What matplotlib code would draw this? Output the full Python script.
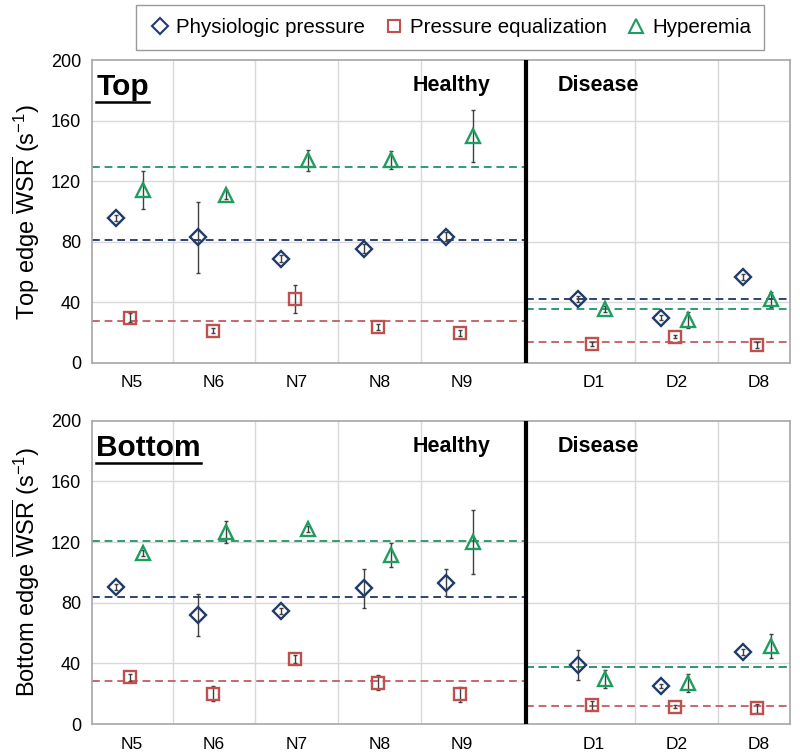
import matplotlib
matplotlib.use("Agg")
import matplotlib.pyplot as plt
from matplotlib.lines import Line2D
import numpy as np

plt.rcParams['font.family'] = ['Liberation Sans', 'DejaVu Sans']
plt.rcParams['mathtext.fontset'] = 'custom'
plt.rcParams['mathtext.rm'] = 'Liberation Sans'
plt.rcParams['mathtext.bf'] = 'Liberation Sans:bold'
plt.rcParams['mathtext.it'] = 'Liberation Sans:italic'

# ---------------- data ----------------
categories = ["N5", "N6", "N7", "N8", "N9", "D1", "D2", "D8"]
healthy_n = 5
series_names = ["Physiologic pressure", "Pressure equalization", "Hyperemia"]

top_phys = [96, 83, 69, 75.5, 83.4, 42, 30, 57]
top_phys_err = [2, 23.5, 2, 3, 3, 2, 1.5, 2]
top_peq = [30, 21.3, 42.2, 23.5, 20, 12.5, 17.4, 11.9]
top_peq_err = [3, 1.5, 9, 2, 2, 1.5, 1, 2]
top_hyp = [114, 111, 134, 134, 150, 35.4, 28.4, 42]
top_hyp_err = [12.5, 3, 7, 6, 17, 2, 5, 5]
top_mean_healthy = [81, 27.5, 129.2]
top_mean_disease = [42.5, 13.9, 35.9]

bot_phys = [90.5, 72, 74.7, 89.4, 93.2, 38.9, 25, 47.3]
bot_phys_err = [2, 14, 2, 13, 9, 10, 1.5, 2]
bot_peq = [30.8, 20, 43, 27.3, 19.6, 12.5, 11.4, 10.3]
bot_peq_err = [2.5, 5, 2.5, 5, 5, 3, 1, 3]
bot_hyp = [113, 126.6, 128.6, 111.4, 120.2, 29.7, 27.3, 51.4]
bot_hyp_err = [2, 7, 2, 8, 21, 6, 6, 8]
bot_mean_healthy = [84, 28.4, 120.9]
bot_mean_disease = [37.4, 11.9, 37.8]

yticks = [0, 40, 80, 120, 160, 200]

# ---------------- styling ----------------
cat_pos = np.array([0, 1, 2, 3, 4, 5.6, 6.6, 7.6])
divider = 4.78
xlim = (-0.48, 7.98)
offsets = [-0.19, -0.02, 0.14]
markers = ['D', 's', '^']
msizes = [7.8, 8.5, 10.5]
mcolors = ['#1F3B6E', '#C0504D', '#1E9E5E']
lcolors = ['#2E4470', '#C8676A', '#2F9E6E']
grid_c = '#D9D9D9'
spine_c = '#A6A6A6'

fig = plt.figure(figsize=(8.0, 7.53), dpi=100)
ax_top = fig.add_axes([0.115, 0.518, 0.873, 0.402])
ax_bot = fig.add_axes([0.115, 0.0385, 0.873, 0.4028])

titles = []


def draw(ax, vals, errs, mh, md, title, ylabel):
    ax.set_xlim(*xlim)
    ax.set_ylim(0, 200)
    ax.set_yticks(yticks)
    ax.set_xticks(cat_pos)
    ax.set_xticklabels(categories, fontsize=12.5)
    ax.tick_params(axis='y', labelsize=13, length=0, pad=8)
    ax.tick_params(axis='x', length=0, pad=9)
    for s in ax.spines.values():
        s.set_color(spine_c)
        s.set_linewidth(1.2)
    for y in yticks[1:-1]:
        ax.axhline(y, color=grid_c, lw=1, zorder=0)
    bounds = [0.5, 1.5, 2.5, 3.5, 6.1, 7.1]
    for b in bounds:
        ax.axvline(b, color=grid_c, lw=1, zorder=0)
    ax.axvline(divider, color='black', lw=3, zorder=3)
    for i in range(3):
        ax.plot([xlim[0], divider], [mh[i], mh[i]], ls=(0, (4, 2.5)),
                color=lcolors[i], lw=1.4, zorder=2)
        ax.plot([divider, xlim[1]], [md[i], md[i]], ls=(0, (4, 2.5)),
                color=lcolors[i], lw=1.4, zorder=2)
    for i in range(3):
        x = cat_pos + offsets[i]
        ax.errorbar(x, vals[i], yerr=errs[i], fmt='none', ecolor='#404040',
                    elinewidth=1, capsize=1.5, capthick=1, zorder=4)
        ax.plot(x, vals[i], ls='none', marker=markers[i], ms=msizes[i],
                mfc='none', mec=mcolors[i], mew=1.7, zorder=5)
    t = ax.text(0.006, 0.957, title, transform=ax.transAxes, fontsize=21.5,
                fontweight='bold', ha='left', va='top')
    titles.append(t)
    ax.text(0.571, 0.95, 'Healthy', transform=ax.transAxes, fontsize=15.5,
            fontweight='bold', ha='right', va='top')
    ax.text(0.666, 0.95, 'Disease', transform=ax.transAxes, fontsize=15.5,
            fontweight='bold', ha='left', va='top')
    ax.set_ylabel(ylabel, fontsize=17, labelpad=6)


draw(ax_top, [top_phys, top_peq, top_hyp], [top_phys_err, top_peq_err, top_hyp_err],
     top_mean_healthy, top_mean_disease, 'Top',
     r'Top edge $\overline{\mathrm{WSR}}$ (s$^{-1}$)')
draw(ax_bot, [bot_phys, bot_peq, bot_hyp], [bot_phys_err, bot_peq_err, bot_hyp_err],
     bot_mean_healthy, bot_mean_disease, 'Bottom',
     r'Bottom edge $\overline{\mathrm{WSR}}$ (s$^{-1}$)')

handles = [Line2D([], [], ls='none', marker=markers[i], ms=msizes[i] * 1.0,
                  mfc='none', mec=mcolors[i], mew=1.5) for i in range(3)]
leg = fig.legend(handles, series_names, loc='upper center', ncol=3,
                 bbox_to_anchor=(0.5625, 0.993), fontsize=14.8, frameon=True,
                 fancybox=False, edgecolor='#808080', handletextpad=0.25,
                 columnspacing=0.85, handlelength=1.1, borderpad=0.62,
                 borderaxespad=0.0)
leg.get_frame().set_linewidth(1.0)

# underline the panel titles
fig.canvas.draw()
r = fig.canvas.get_renderer()
W, H = fig.get_size_inches() * fig.dpi
for t in titles:
    bb = t.get_window_extent(r)
    y = bb.y0 - 1
    fig.add_artist(Line2D([bb.x0 / W, bb.x1 / W], [y / H, y / H],
                          color='black', lw=1.8, transform=fig.transFigure))

fig.savefig('out.png', dpi=100)
